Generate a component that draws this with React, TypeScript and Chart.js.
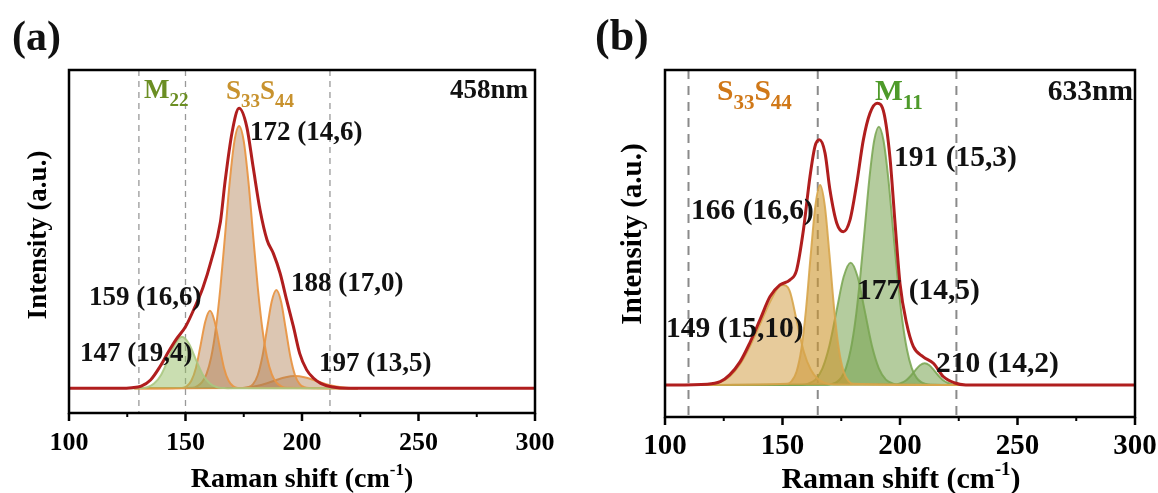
import React, { useEffect, useRef } from "react";
import Chart from "chart.js/auto";

const SERIF = '"Liberation Serif", "Times New Roman", serif';

// ---------- axis ticks ----------
const MAJOR_TICKS = [100, 150, 200, 250, 300];
const MINOR_TICKS = [125, 175, 225, 275];

// ---------- panel (a) 458 nm ----------
const A_ENV_X = [100, 122, 127, 131, 135, 139, 143, 146, 150, 154, 157.5, 161, 165, 167, 170, 173, 176.3, 179, 182, 185, 187.7, 190.6, 193.4, 196.3, 199, 202, 205, 208, 213, 220, 300];
const A_ENV_Y = [0, 0, 0.002, 0.008, 0.03, 0.077, 0.135, 0.175, 0.22, 0.29, 0.36, 0.455, 0.595, 0.74, 0.915, 1, 0.934, 0.792, 0.637, 0.53, 0.482, 0.411, 0.316, 0.221, 0.125, 0.066, 0.036, 0.018, 0.005, 0, 0];

const A_147_X = [126, 130.5, 133.5, 136.5, 139.5, 142.5, 145.5, 148.5, 151.5, 154.5, 157.5, 160.5, 163.5, 166.5, 169.5, 224];
const A_147_Y = [0, 0.001, 0.004, 0.017, 0.048, 0.102, 0.159, 0.184, 0.159, 0.102, 0.048, 0.017, 0.004, 0.001, 0, 0];

const A_159_X = [128, 148.5, 150.5, 152.5, 154.5, 156.5, 158.5, 160.5, 162.5, 164.5, 166.5, 168.5, 170.5, 172.5, 224];
const A_159_Y = [0, 0.001, 0.007, 0.027, 0.074, 0.155, 0.239, 0.277, 0.239, 0.155, 0.074, 0.027, 0.007, 0.001, 0];

const A_172_X = [128, 153, 155, 157, 159, 161, 163, 165, 167, 169, 171, 173, 175, 177, 179, 181, 183, 185, 187, 189, 191, 193, 224];
const A_172_Y = [0, 0.002, 0.008, 0.021, 0.051, 0.11, 0.212, 0.362, 0.549, 0.739, 0.883, 0.937, 0.883, 0.739, 0.549, 0.362, 0.212, 0.11, 0.051, 0.021, 0.008, 0.002, 0];

const A_188_X = [128, 175, 177, 179, 181, 183, 185, 187, 189, 191, 193, 195, 197, 199, 201, 203, 224];
const A_188_Y = [0, 0.001, 0.004, 0.015, 0.047, 0.114, 0.213, 0.31, 0.351, 0.31, 0.213, 0.114, 0.047, 0.015, 0.004, 0.001, 0];

const A_197_X = [128, 173, 177, 181, 185, 189, 193, 197, 201, 205, 209, 213, 217, 221, 224];
const A_197_Y = [0, 0.001, 0.004, 0.009, 0.018, 0.03, 0.04, 0.044, 0.04, 0.03, 0.018, 0.009, 0.004, 0.001, 0];

const A_DASHES = [130, 150, 212];

// ---------- panel (b) 633 nm ----------
const B_ENV_X = [100, 118, 123.5, 127.5, 132, 136, 140.4, 144.7, 148.9, 153.2, 156, 158.9, 161.7, 163.8, 165.7, 168.1, 170.2, 173.1, 175.9, 178.7, 181.6, 184.4, 187.2, 190.3, 193.2, 195.7, 197.9, 200, 202.8, 205.7, 209.9, 214.2, 218.4, 223, 228, 300];
const B_ENV_Y = [0, 0.003, 0.012, 0.036, 0.083, 0.148, 0.231, 0.314, 0.355, 0.373, 0.408, 0.55, 0.74, 0.846, 0.87, 0.823, 0.692, 0.574, 0.544, 0.585, 0.716, 0.87, 0.964, 1, 0.964, 0.81, 0.574, 0.36, 0.219, 0.136, 0.1, 0.077, 0.03, 0.008, 0, 0];

const B_149_X = [116, 123.5, 127.5, 132, 136, 140.4, 144.7, 148, 150, 153, 156, 159, 162, 165, 168, 172, 226];
const B_149_Y = [0, 0.01, 0.03, 0.075, 0.135, 0.215, 0.295, 0.345, 0.355, 0.335, 0.23, 0.12, 0.055, 0.022, 0.007, 0.002, 0];

const B_166_X = [116, 152, 154, 156, 158, 160, 162, 164, 166, 168, 170, 172, 174, 176, 178, 180, 226];
const B_166_Y = [0, 0.004, 0.015, 0.048, 0.126, 0.268, 0.461, 0.637, 0.71, 0.637, 0.461, 0.268, 0.126, 0.048, 0.015, 0.004, 0];

const B_177_X = [116, 158, 161, 164, 167, 170, 173, 176, 179, 182, 185, 188, 191, 194, 197, 200, 226];
const B_177_Y = [0, 0.001, 0.005, 0.019, 0.059, 0.141, 0.263, 0.383, 0.434, 0.383, 0.263, 0.141, 0.059, 0.019, 0.005, 0.001, 0];

const B_191_X = [116, 169, 171, 173, 175, 177, 179, 181, 183, 185, 187, 189, 191, 193, 195, 197, 199, 201, 203, 205, 207, 209, 211, 213, 226];
const B_191_Y = [0, 0.001, 0.004, 0.01, 0.026, 0.06, 0.124, 0.228, 0.377, 0.556, 0.735, 0.867, 0.917, 0.867, 0.735, 0.556, 0.377, 0.228, 0.124, 0.06, 0.026, 0.01, 0.004, 0.001, 0];

const B_210_X = [116, 198.5, 200.5, 202.5, 204.5, 206.5, 208.5, 210.5, 212.5, 214.5, 216.5, 218.5, 220.5, 222.5, 226];
const B_210_Y = [0, 0.002, 0.007, 0.016, 0.032, 0.052, 0.07, 0.077, 0.07, 0.052, 0.032, 0.016, 0.007, 0.002, 0];

const B_DASHES = [110, 165, 224];

// ---------- types ----------
type Comp = { x: number[]; y: number[]; fill: string; line: string };
type Txt = { text: string; x: number; baseline: number; size: number; align?: CanvasTextAlign; color?: string };
type Rich = { parts: { t: string; size: number; dy: number }[]; x: number; baseline: number; color: string };

interface PanelSpec {
  width: number;
  height: number;
  area: { left: number; top: number; right: number; bottom: number };
  yMin: number;
  yMax: number;
  comps: Comp[];
  envX: number[];
  envY: number[];
  dashes: number[];
  dashColor: string;
  dashWidth: number;
  dashPattern: number[];
  tickSize: number;
  tickBaseline: number;
  xTitle: { cx: number; baseline: number; size: number };
  yTitle: { x: number; cy: number; size: number };
  texts: Txt[];
  rich: Rich[];
}

const W = 579;
const H = 493;

const A_ORANGE_FILL = "rgba(176,126,80,0.44)";
const A_ORANGE_LINE = "rgba(232,150,70,0.95)";

const SPEC_A: PanelSpec = {
  width: W,
  height: H,
  area: { left: 69, top: 70, right: 535, bottom: 413 },
  yMin: -0.088,
  yMax: 1.137,
  comps: [
    { x: A_147_X, y: A_147_Y, fill: "rgba(150,190,100,0.5)", line: "rgba(170,200,130,0.9)" },
    { x: A_159_X, y: A_159_Y, fill: A_ORANGE_FILL, line: A_ORANGE_LINE },
    { x: A_172_X, y: A_172_Y, fill: A_ORANGE_FILL, line: A_ORANGE_LINE },
    { x: A_188_X, y: A_188_Y, fill: A_ORANGE_FILL, line: A_ORANGE_LINE },
    { x: A_197_X, y: A_197_Y, fill: A_ORANGE_FILL, line: A_ORANGE_LINE },
  ],
  envX: A_ENV_X,
  envY: A_ENV_Y,
  dashes: A_DASHES,
  dashColor: "#999999",
  dashWidth: 1.3,
  dashPattern: [6, 5],
  tickSize: 26,
  tickBaseline: 450,
  xTitle: { cx: 302, baseline: 487, size: 28 },
  yTitle: { x: 46, cy: 235, size: 27 },
  texts: [
    { text: "(a)", x: 12, baseline: 50, size: 42 },
    { text: "458nm", x: 528, baseline: 98, size: 27, align: "right" },
    { text: "172 (14,6)", x: 250, baseline: 140, size: 27 },
    { text: "159 (16,6)", x: 89, baseline: 305, size: 27 },
    { text: "147 (19,4)", x: 80, baseline: 361, size: 27 },
    { text: "188 (17,0)", x: 291, baseline: 291, size: 27 },
    { text: "197 (13,5)", x: 319, baseline: 371, size: 27 },
  ],
  rich: [
    { parts: [{ t: "M", size: 27, dy: 0 }, { t: "22", size: 19, dy: 8 }], x: 144, baseline: 98, color: "#6b8e23" },
    {
      parts: [
        { t: "S", size: 27, dy: 0 },
        { t: "33", size: 19, dy: 8 },
        { t: "S", size: 27, dy: 0 },
        { t: "44", size: 19, dy: 8 },
      ],
      x: 226,
      baseline: 99,
      color: "#c8922e",
    },
  ],
};

const B_GOLD_LINE = "rgba(215,165,75,0.9)";
const B_GREEN_FILL = "rgba(118,162,78,0.55)";
const B_GREEN_LINE = "rgba(120,165,80,0.85)";

const SPEC_B: PanelSpec = {
  width: W,
  height: H,
  area: { left: 86, top: 70, right: 556, bottom: 417 },
  yMin: -0.1136,
  yMax: 1.118,
  comps: [
    { x: B_149_X, y: B_149_Y, fill: "rgba(212,160,72,0.55)", line: B_GOLD_LINE },
    { x: B_166_X, y: B_166_Y, fill: "rgba(205,150,45,0.6)", line: B_GOLD_LINE },
    { x: B_177_X, y: B_177_Y, fill: B_GREEN_FILL, line: B_GREEN_LINE },
    { x: B_191_X, y: B_191_Y, fill: B_GREEN_FILL, line: B_GREEN_LINE },
    { x: B_210_X, y: B_210_Y, fill: B_GREEN_FILL, line: B_GREEN_LINE },
  ],
  envX: B_ENV_X,
  envY: B_ENV_Y,
  dashes: B_DASHES,
  dashColor: "#8a8a8a",
  dashWidth: 2,
  dashPattern: [9, 7],
  tickSize: 29,
  tickBaseline: 454,
  xTitle: { cx: 322, baseline: 488, size: 30 },
  yTitle: { x: 62, cy: 234, size: 29 },
  texts: [
    { text: "(b)", x: 16, baseline: 50, size: 44 },
    { text: "633nm", x: 554, baseline: 100, size: 29.5, align: "right" },
    { text: "191 (15,3)", x: 315, baseline: 166, size: 29.5 },
    { text: "166 (16,6)", x: 112, baseline: 219, size: 29.5 },
    { text: "177 (14,5)", x: 278, baseline: 299, size: 29.5 },
    { text: "149 (15,10)", x: 87, baseline: 337, size: 29.5 },
    { text: "210 (14,2)", x: 357, baseline: 372, size: 29.5 },
  ],
  rich: [
    {
      parts: [
        { t: "S", size: 29.5, dy: 0 },
        { t: "33", size: 21, dy: 9 },
        { t: "S", size: 29.5, dy: 0 },
        { t: "44", size: 21, dy: 9 },
      ],
      x: 138,
      baseline: 100,
      color: "#d07818",
    },
    { parts: [{ t: "M", size: 29.5, dy: 0 }, { t: "11", size: 21, dy: 9 }], x: 296, baseline: 100, color: "#4e9a2a" },
  ],
};

function drawRich(ctx: CanvasRenderingContext2D, r: Rich) {
  ctx.fillStyle = r.color;
  ctx.textAlign = "left";
  ctx.textBaseline = "alphabetic";
  let cx = r.x;
  for (const p of r.parts) {
    ctx.font = `bold ${p.size}px ${SERIF}`;
    ctx.fillText(p.t, cx, r.baseline + p.dy);
    cx += ctx.measureText(p.t).width;
  }
}

function makeDeco(spec: PanelSpec) {
  return {
    id: "deco",
    beforeDatasetsDraw(chart: any) {
      const { ctx, chartArea } = chart;
      const xs = chart.scales.x;
      ctx.save();
      ctx.strokeStyle = spec.dashColor;
      ctx.lineWidth = spec.dashWidth;
      ctx.setLineDash(spec.dashPattern);
      for (const v of spec.dashes) {
        const px = xs.getPixelForValue(v);
        ctx.beginPath();
        ctx.moveTo(px, chartArea.top);
        ctx.lineTo(px, chartArea.bottom);
        ctx.stroke();
      }
      ctx.restore();
    },
    afterDraw(chart: any) {
      const { ctx, chartArea } = chart;
      const xs = chart.scales.x;
      ctx.save();
      // frame
      ctx.strokeStyle = "#000";
      ctx.lineWidth = 2.5;
      ctx.setLineDash([]);
      ctx.strokeRect(chartArea.left, chartArea.top, chartArea.right - chartArea.left, chartArea.bottom - chartArea.top);
      // ticks
      ctx.lineWidth = 2.5;
      for (const v of MAJOR_TICKS) {
        const px = xs.getPixelForValue(v);
        ctx.beginPath();
        ctx.moveTo(px, chartArea.bottom);
        ctx.lineTo(px, chartArea.bottom + 8);
        ctx.stroke();
      }
      ctx.lineWidth = 2;
      for (const v of MINOR_TICKS) {
        const px = xs.getPixelForValue(v);
        ctx.beginPath();
        ctx.moveTo(px, chartArea.bottom);
        ctx.lineTo(px, chartArea.bottom + 4);
        ctx.stroke();
      }
      // tick labels
      ctx.fillStyle = "#000";
      ctx.font = `bold ${spec.tickSize}px ${SERIF}`;
      ctx.textAlign = "center";
      ctx.textBaseline = "alphabetic";
      for (const v of MAJOR_TICKS) {
        ctx.fillText(String(v), xs.getPixelForValue(v), spec.tickBaseline);
      }
      // x title with superscript
      const t = spec.xTitle;
      const mainFont = `bold ${t.size}px ${SERIF}`;
      const supFont = `bold ${Math.round(t.size * 0.62)}px ${SERIF}`;
      ctx.font = mainFont;
      const p1 = "Raman shift (cm";
      const p3 = ")";
      const w1 = ctx.measureText(p1).width;
      const w3 = ctx.measureText(p3).width;
      ctx.font = supFont;
      const p2 = "-1";
      const w2 = ctx.measureText(p2).width;
      let sx = t.cx - (w1 + w2 + w3) / 2;
      ctx.textAlign = "left";
      ctx.font = mainFont;
      ctx.fillText(p1, sx, t.baseline);
      sx += w1;
      ctx.font = supFont;
      ctx.fillText(p2, sx, t.baseline - t.size * 0.42);
      sx += w2;
      ctx.font = mainFont;
      ctx.fillText(p3, sx, t.baseline);
      // y title
      const yt = spec.yTitle;
      ctx.save();
      ctx.translate(yt.x, yt.cy);
      ctx.rotate(-Math.PI / 2);
      ctx.font = `bold ${yt.size}px ${SERIF}`;
      ctx.textAlign = "center";
      ctx.textBaseline = "alphabetic";
      ctx.fillText("Intensity (a.u.)", 0, 0);
      ctx.restore();
      // annotations
      for (const tx of spec.texts) {
        ctx.font = `bold ${tx.size}px ${SERIF}`;
        ctx.fillStyle = tx.color || "#111";
        ctx.textAlign = tx.align || "left";
        ctx.textBaseline = "alphabetic";
        ctx.fillText(tx.text, tx.x, tx.baseline);
      }
      for (const r of spec.rich) drawRich(ctx, r);
      ctx.restore();
    },
  };
}

function Panel({ spec, left }: { spec: PanelSpec; left: number }) {
  const ref = useRef<HTMLCanvasElement | null>(null);
  useEffect(() => {
    if (!ref.current) return;
    const toPts = (xs: number[], ys: number[]) => xs.map((x, i) => ({ x, y: ys[i] }));
    const datasets: any[] = [
      {
        data: toPts(spec.envX, spec.envY),
        borderColor: "#b01e1e",
        borderWidth: 3,
        fill: false,
        cubicInterpolationMode: "monotone",
        pointRadius: 0,
        order: 0,
      },
      ...spec.comps.map((c, i) => ({
        data: toPts(c.x, c.y),
        borderColor: c.line,
        backgroundColor: c.fill,
        borderWidth: 2,
        fill: { value: 0 },
        cubicInterpolationMode: "monotone",
        pointRadius: 0,
        order: i + 1,
      })),
    ];
    const chart = new Chart(ref.current, {
      type: "line",
      data: { datasets },
      options: {
        responsive: false,
        animation: false,
        devicePixelRatio: 1,
        layout: {
          padding: {
            left: spec.area.left,
            top: spec.area.top,
            right: spec.width - spec.area.right,
            bottom: spec.height - spec.area.bottom,
          },
        },
        scales: {
          x: { type: "linear", min: 100, max: 300, display: false },
          y: { type: "linear", min: spec.yMin, max: spec.yMax, display: false },
        },
        plugins: { legend: { display: false }, tooltip: { enabled: false } },
        elements: { point: { radius: 0 } },
      },
      plugins: [makeDeco(spec) as any],
    });
    return () => chart.destroy();
  }, [spec]);
  return (
    <canvas
      ref={ref}
      width={spec.width}
      height={spec.height}
      style={{ position: "absolute", left, top: 0, width: spec.width, height: spec.height }}
    />
  );
}

export default function App() {
  return (
    <div style={{ position: "absolute", left: 0, top: 0, width: 1158, height: 493, background: "#fff", overflow: "hidden" }}>
      <Panel spec={SPEC_A} left={0} />
      <Panel spec={SPEC_B} left={579} />
    </div>
  );
}
